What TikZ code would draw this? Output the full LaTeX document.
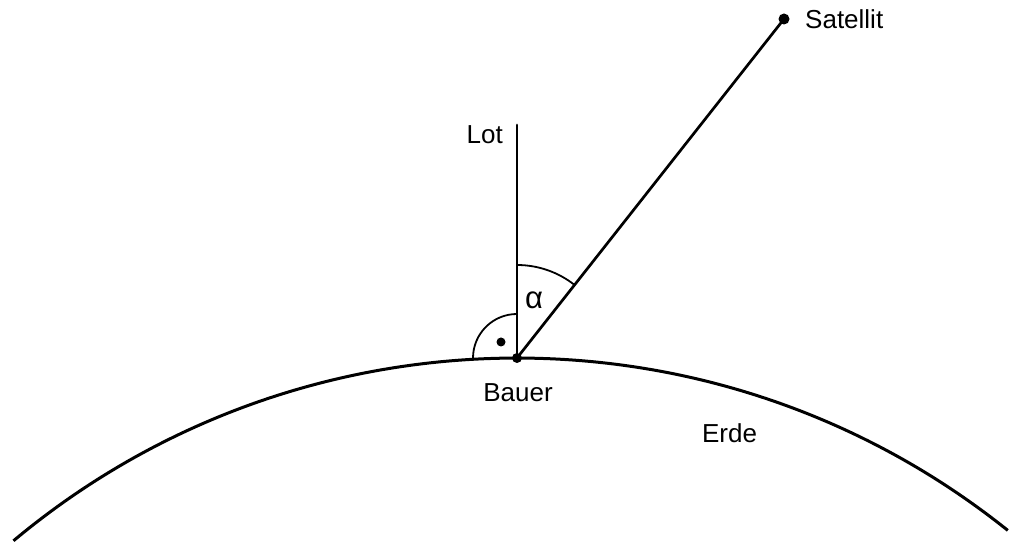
\documentclass[tikz,border=0pt]{standalone}
\usepackage{fontspec}
\setmainfont{Liberation Sans}
\begin{document}
\begin{tikzpicture}[x=1pt,y=1pt,
  lbl/.style={inner sep=0pt,font=\fontsize{26}{30}\selectfont},
  thickline/.style={line width=2.7pt,line cap=round},
  thinarc/.style={line width=1.8pt},
  blob/.style={circle,fill=black,inner sep=0pt,minimum size=#1}]
\useasboundingbox (0,0) rectangle (1009,543);
% earth
\coordinate (C) at (517,-600);
\draw[line width=3pt] (C) ++(129.9:785) arc[start angle=129.9,end angle=51.3,radius=785];
% points
\node[blob=10pt] (B) at (517,185) {};
\node[blob=11pt] (S) at (784,524) {};
\coordinate (L) at (517,418);
% lines
\draw[thickline] (B.center) -- (L);
\draw[thickline] (B.center) -- (S.center);
% angle arcs
\draw[thinarc] (B.center) ++(90:93) arc[start angle=90,end angle=51.8,radius=93];
\draw[thinarc] (B.center) ++(90:44) arc[start angle=90,end angle=180,radius=44];
\node[blob=9pt] (rd) at (501,201) {};
% labels
\node[lbl,anchor=base east] (lot) at (503,399) {Lot};
\node[lbl,anchor=base west] (sat) at (805,514) {Satellit};
\node[lbl,anchor=base] (bauer) at (518,141) {Bauer};
\node[lbl,anchor=base] (erde) at (729.5,100) {Erde};
\node[lbl,font=\fontsize{31}{34}\selectfont] (alpha) at (534,243) {α};
\end{tikzpicture}
\end{document}
